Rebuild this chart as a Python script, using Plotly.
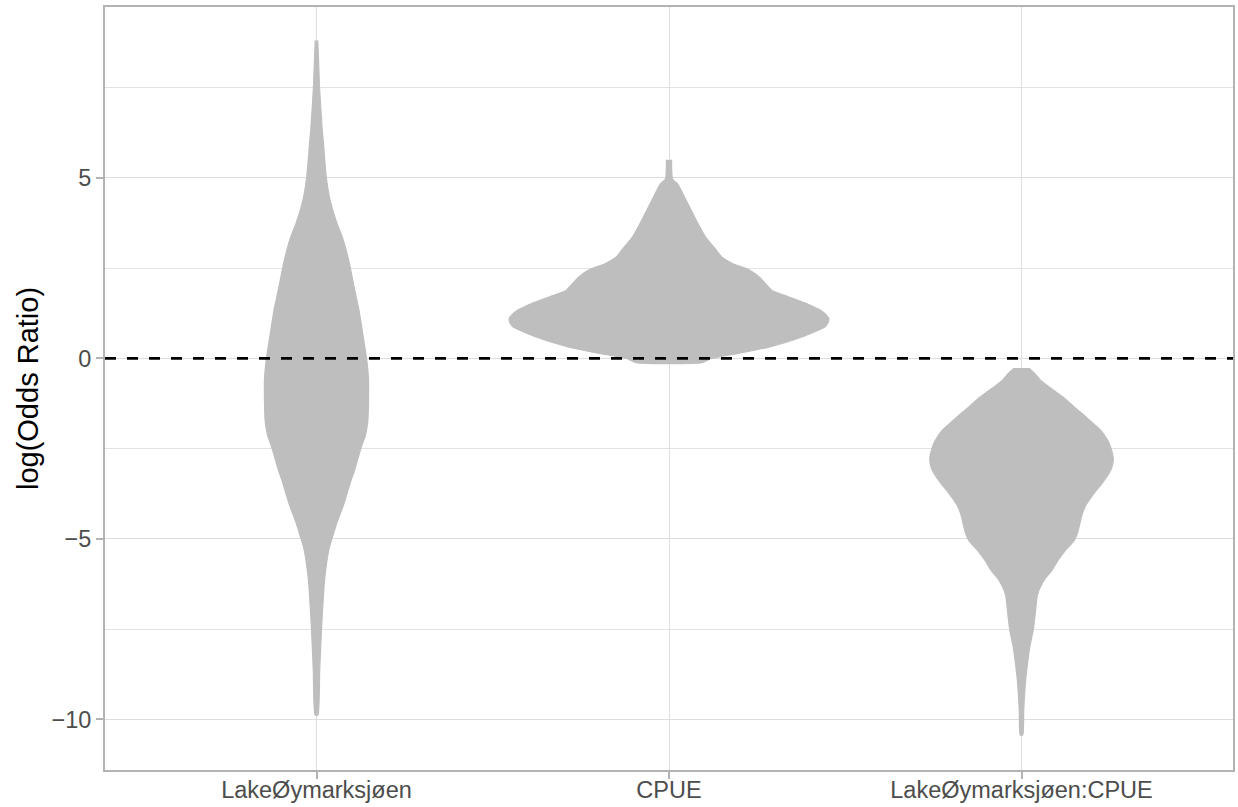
import plotly.graph_objects as go

# Model terms shown on the x axis
categories = ["LakeØymarksjøen", "CPUE", "LakeØymarksjøen:CPUE"]

# Posterior log(odds ratio) density profiles: y level and relative density
lake_y = [8.80, 7.51, 6.31, 6.03, 5.02, 4.46, 4.10, 3.73, 3.36, 2.99, 2.62, 2.16,
          1.70, 1.33, 0.77, 0.00, -0.55, -1.25, -1.73, -2.13, -2.44, -3.10, -3.38,
          -4.02, -4.55, -4.95, -5.26, -5.84, -6.33, -6.90, -7.53, -8.64, -9.88]
lake_density = [0.008, 0.019, 0.036, 0.042, 0.061, 0.081, 0.102, 0.129, 0.161, 0.186,
                0.206, 0.227, 0.248, 0.266, 0.286, 0.313, 0.325, 0.325, 0.321, 0.306,
                0.281, 0.238, 0.216, 0.172, 0.128, 0.100, 0.079, 0.058, 0.047, 0.039,
                0.031, 0.020, 0.009]

cpue_y = [5.50, 4.97, 4.83, 4.37, 3.77, 3.36, 2.99, 2.80, 2.62, 2.44, 2.25, 1.88,
          1.70, 1.51, 1.33, 1.19, 1.10, 0.98, 0.87, 0.59, 0.31, 0.13, -0.01, -0.12]
cpue_density = [0.016, 0.022, 0.054, 0.108, 0.177, 0.229, 0.297, 0.331, 0.400, 0.505,
                0.566, 0.644, 0.750, 0.863, 0.948, 0.986, 1.000, 0.994, 0.974, 0.831,
                0.625, 0.425, 0.261, 0.206]

inter_y = [-0.27, -0.42, -0.61, -0.89, -1.07, -1.35, -1.53, -1.81, -1.99, -2.27,
           -2.45, -2.78, -3.01, -3.19, -3.47, -3.65, -3.93, -4.12, -4.39, -4.58,
           -4.85, -5.04, -5.31, -5.59, -5.87, -6.14, -6.42, -6.61, -7.07, -7.53,
           -7.99, -8.27, -8.91, -9.74, -10.43]
inter_density = [0.047, 0.083, 0.120, 0.203, 0.260, 0.330, 0.380, 0.450, 0.495, 0.539,
                 0.557, 0.574, 0.566, 0.547, 0.503, 0.469, 0.423, 0.396, 0.375, 0.365,
                 0.349, 0.330, 0.276, 0.229, 0.190, 0.141, 0.109, 0.097, 0.086, 0.073,
                 0.052, 0.043, 0.026, 0.014, 0.008]

y_ticks = [-10, -5, 0, 5]
y_tick_labels = ["\u221210", "\u22125", "0", "5"]
y_minor_ticks = [-7.5, -2.5, 2.5, 7.5]

profiles = [(lake_y, lake_density), (cpue_y, cpue_density), (inter_y, inter_density)]

HALF_WIDTH = 0.4536   # half-width of the widest violin, in category units
FILL = "#BEBEBE"
FONT = "Liberation Sans, Arial, Helvetica, sans-serif"
GRID = "#DEDEDE"
FRAME = "#B3B3B3"

fig = go.Figure()
for pos, (ys, dens) in enumerate(profiles, start=1):
    right = [pos + d * HALF_WIDTH for d in dens]
    left = [pos - d * HALF_WIDTH for d in reversed(dens)]
    fig.add_trace(go.Scatter(
        x=right + left,
        y=list(ys) + list(reversed(ys)),
        mode="lines",
        fill="toself",
        fillcolor=FILL,
        line=dict(color=FILL, width=1.2, shape="spline", smoothing=0.5),
        hoverinfo="skip",
        showlegend=False,
    ))

# reference line at no effect
fig.add_hline(y=0, line=dict(color="black", width=2.8, dash="11px,11px"), layer="above")

fig.update_layout(
    width=1238,
    height=807,
    margin=dict(l=105, r=5, t=7, b=37),
    paper_bgcolor="white",
    plot_bgcolor="white",
    font=dict(family=FONT, color="#4D4D4D"),
    showlegend=False,
)

fig.update_xaxes(
    range=[0.4, 3.6],
    tickvals=[1, 2, 3],
    ticktext=categories,
    tickfont=dict(size=23.5, color="#4D4D4D"),
    ticklabelstandoff=-9,
    showgrid=True, gridcolor=GRID, gridwidth=1.3,
    showline=True, mirror=True, linecolor=FRAME, linewidth=2,
    ticks="outside", ticklen=7, tickwidth=1.5, tickcolor=FRAME,
    zeroline=False, automargin=False,
)

fig.update_yaxes(
    range=[-11.40, 9.73],
    tickvals=y_ticks,
    ticktext=y_tick_labels,
    tickfont=dict(size=23.5, color="#4D4D4D"),
    showgrid=True, gridcolor=GRID, gridwidth=1.3,
    minor=dict(tickvals=y_minor_ticks, showgrid=True,
               gridcolor="#E3E3E3", gridwidth=1.0, ticks=""),
    showline=True, mirror=True, linecolor=FRAME, linewidth=2,
    ticks="outside", ticklen=7, tickwidth=1.5, tickcolor=FRAME,
    zeroline=False, automargin=False,
    title=dict(text="log(Odds Ratio)", font=dict(size=29, color="black"), standoff=4),
)

fig.write_html("out.html")
